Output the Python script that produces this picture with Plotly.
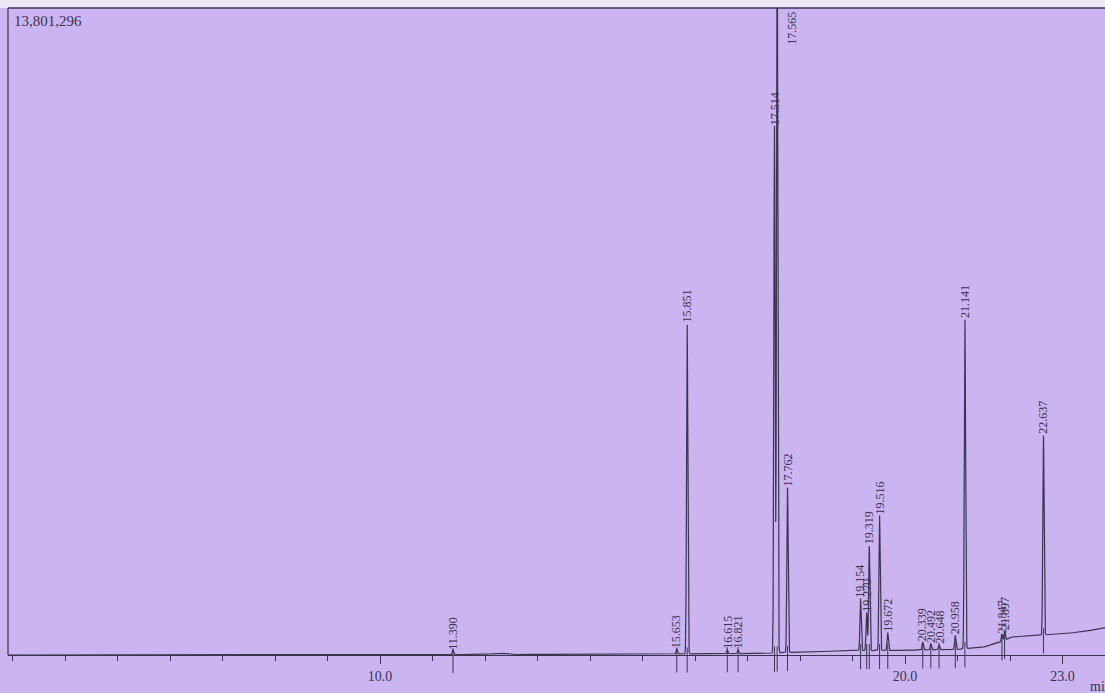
import numpy as np
import plotly.graph_objects as go

# ---- data ----
peak_rt = [11.390, 15.653, 15.851, 16.615, 16.821, 17.514, 17.565, 17.762,
           19.154, 19.270, 19.319, 19.516, 19.672, 20.339, 20.492, 20.648,
           20.958, 21.141, 21.847, 21.897, 22.637]
peak_height = [90000, 110000, 7040000, 80000, 80000, 11240000, 16000000, 3520000,
               1110000, 810000, 2240000, 2880000, 380000, 170000, 130000, 100000,
               300000, 7040000, 170000, 200000, 4270000]
peak_labels = ["11.390", "15.653", "15.851", "16.615", "16.821", "17.514", "17.565", "17.762",
               "19.154", "19.270", "19.319", "19.516", "19.672", "20.339", "20.492", "20.648",
               "20.958", "21.141", "21.847", "21.897", "22.637"]

base_t = [2.9, 12.0, 12.3, 12.5, 15.5, 17.3, 17.9, 18.9, 19.8, 20.5, 21.0,
          21.5, 21.85, 22.0, 22.5, 23.0, 23.4, 23.9]
base_v = [0, 10000, 45000, 10000, 20000, 30000, 60000, 90000, 100000, 110000, 120000,
          170000, 280000, 380000, 420000, 450000, 500000, 600000]

ymax_label = "13,801,296"
YMAX = 13801296
major_ticks = [10.0, 20.0, 23.0]
major_text = ["10.0", "20.0", "23.0"]

# ---- build signal ----
t = np.arange(2.9, 23.9, 0.002)
sigma = 0.012
signal = np.interp(t, base_t, base_v)
for rt, h in zip(peak_rt, peak_height):
    signal = signal + h * np.exp(-0.5 * ((t - rt) / sigma) ** 2)

bg = "#CBB5F0"
ink = "#3b3350"

# layout geometry (pixels)
W, H = 1105, 693
left, top, bottom = 8, 8, 675
axis_px = 655
plot_h = bottom - top
px_per_unit = (axis_px - top) / YMAX
ymin = -(bottom - axis_px) / px_per_unit
xmin = 10 - (380 - left) / 52.5
xmax = 20 + (W - 905) / 52.5

fig = go.Figure()
fig.add_trace(go.Scatter(x=t, y=signal, mode="lines",
                         line=dict(color=ink, width=1.2), hoverinfo="skip",
                         showlegend=False))

# integration markers below baseline at each peak
base_at_rt = np.interp(peak_rt, base_t, base_v)
fig.add_trace(go.Scatter(x=peak_rt, y=base_at_rt - 6 * (1 / px_per_unit),
                         mode="markers",
                         marker=dict(symbol="line-ns", size=18,
                                     line=dict(color=ink, width=1)),
                         hoverinfo="skip", showlegend=False))

ann = []
for rt, h, lab, b in zip(peak_rt, peak_height, peak_labels, base_at_rt):
    if h > YMAX:
        ann.append(dict(x=rt, y=YMAX, xref="x", yref="y", text=lab, textangle=-90,
                        showarrow=False, xanchor="center", yanchor="top", xshift=14,
                        yshift=-2, font=dict(family="Liberation Serif", size=12, color=ink)))
    else:
        ann.append(dict(x=rt, y=h + b, xref="x", yref="y", text=lab, textangle=-90,
                        showarrow=False, xanchor="center", yanchor="bottom", yshift=0,
                        borderpad=0,
                        font=dict(family="Liberation Serif", size=12, color=ink)))

ann.append(dict(x=0.004, y=0.995, xref="paper", yref="paper", text=ymax_label,
                showarrow=False, xanchor="left", yanchor="top",
                font=dict(family="Liberation Serif", size=15, color=ink)))
ann.append(dict(x=(1088 - left) / (W - left), y=-(686 - bottom) / plot_h,
                xref="paper", yref="paper", text="min", showarrow=False,
                xanchor="left", yanchor="middle",
                font=dict(family="Liberation Serif", size=14, color=ink)))

axis_pos = (bottom - axis_px) / plot_h
fig.update_layout(
    width=W, height=H,
    margin=dict(l=left, r=0, t=top, b=H - bottom),
    paper_bgcolor=bg, plot_bgcolor=bg,
    annotations=ann,
    xaxis=dict(range=[xmin, xmax], anchor="free", position=axis_pos,
               showline=True, linecolor=ink, linewidth=1.2, showgrid=False,
               zeroline=False, ticks="outside", ticklen=8, tickcolor=ink,
               tickvals=major_ticks, ticktext=major_text,
               tickfont=dict(family="Liberation Serif", size=14, color=ink),
               minor=dict(dtick=1, tick0=0, ticks="outside", ticklen=5, tickcolor=ink)),
    yaxis=dict(range=[ymin, YMAX], visible=False),
    shapes=[
        dict(type="rect", xref="paper", yref="paper", x0=-0.01, x1=1.01, y0=1,
             y1=1 + top / plot_h, fillcolor="#ECE6F4", line=dict(width=0), layer="below"),
        dict(type="line", xref="paper", yref="paper", x0=0, x1=1, y0=1, y1=1,
             line=dict(color=ink, width=1.5)),
        dict(type="line", xref="paper", yref="paper", x0=0, x1=0, y0=axis_pos, y1=1,
             line=dict(color=ink, width=1.2)),
    ],
)

fig.write_html("out.html",
               config={"displayModeBar": False},
               post_script="document.body.style.margin='0';"
                           "document.body.style.background='%s';" % bg)
